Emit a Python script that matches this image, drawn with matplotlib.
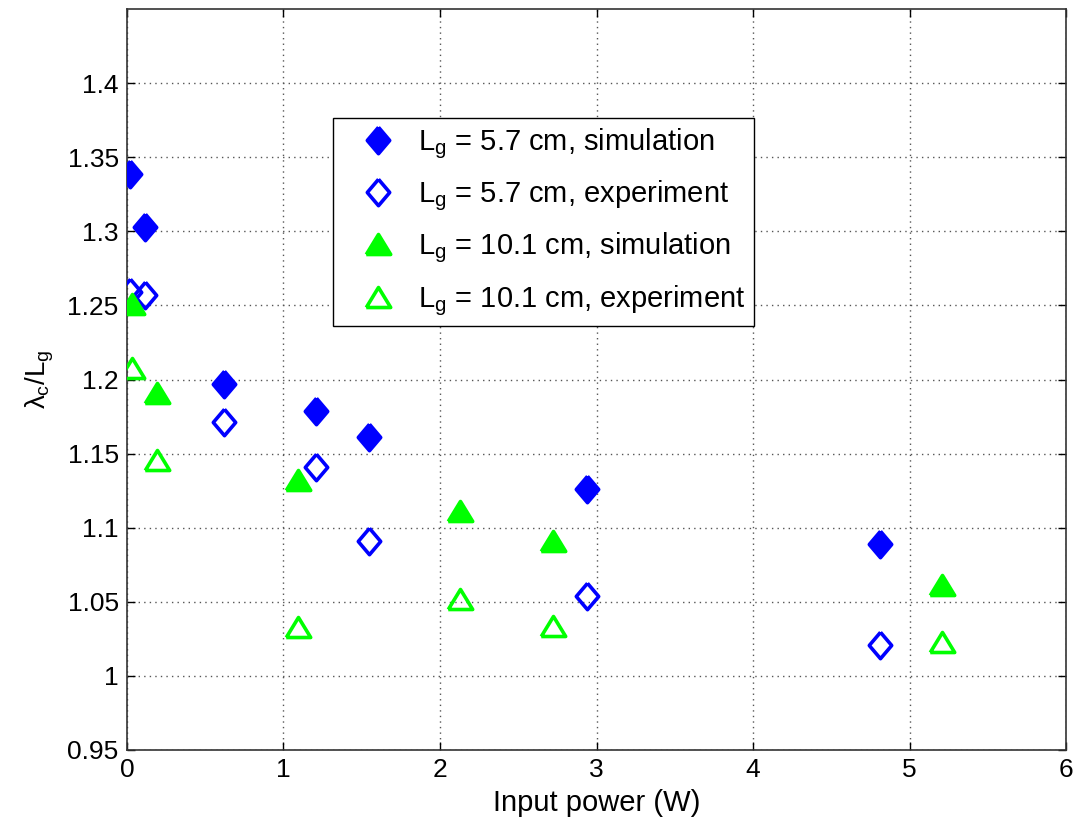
import matplotlib
matplotlib.use("Agg")
import matplotlib.pyplot as plt

plt.rcParams['font.family'] = ['Liberation Sans', 'DejaVu Sans']
plt.rcParams['mathtext.fontset'] = 'custom'
plt.rcParams['mathtext.rm'] = 'Liberation Sans'
plt.rcParams['mathtext.it'] = 'Liberation Sans'
plt.rcParams['mathtext.bf'] = 'Liberation Sans:bold'

# Data
sim57_x = [0.02, 0.115, 0.62, 1.21, 1.545, 2.94, 4.81]
sim57_y = [1.339, 1.303, 1.197, 1.179, 1.161, 1.126, 1.089]
exp57_x = [0.02, 0.115, 0.62, 1.21, 1.545, 2.94, 4.81]
exp57_y = [1.259, 1.257, 1.171, 1.141, 1.091, 1.054, 1.021]
sim101_x = [0.03, 0.19, 1.09, 2.13, 2.72, 5.21]
sim101_y = [1.251, 1.191, 1.132, 1.111, 1.091, 1.061]
exp101_x = [0.03, 0.19, 1.09, 2.13, 2.72, 5.21]
exp101_y = [1.208, 1.146, 1.033, 1.052, 1.034, 1.023]

labels = [r'$\mathregular{L_g}$ = 5.7 cm, simulation',
          r'$\mathregular{L_g}$ = 5.7 cm, experiment',
          r'$\mathregular{L_g}$ = 10.1 cm, simulation',
          r'$\mathregular{L_g}$ = 10.1 cm, experiment']
xticks = [0, 1, 2, 3, 4, 5, 6]
yticks = [0.95, 1.0, 1.05, 1.1, 1.15, 1.2, 1.25, 1.3, 1.35, 1.4]
ytick_labels = ['0.95', '1', '1.05', '1.1', '1.15', '1.2', '1.25', '1.3', '1.35', '1.4']

blue = '#0000ff'
green = '#00ff00'
diamond = [(0, 1), (0.85, 0), (0, -1), (-0.85, 0), (0, 1)]
triangle = [(-1, -0.82), (1, -0.82), (0, 0.82), (-1, -0.82)]

fig = plt.figure(figsize=(10.78, 8.35), dpi=100)
ax = fig.add_axes([0.1178, 0.1018, 0.8711, 0.8874])

lw = 2.6
ax.plot(sim57_x, sim57_y, linestyle='none', marker=diamond, ms=19,
        mfc=blue, mec=blue, mew=lw, label=labels[0], zorder=3)
ax.plot(exp57_x, exp57_y, linestyle='none', marker=diamond, ms=19,
        mfc='none', mec=blue, mew=lw, label=labels[1], zorder=3)
ax.plot(sim101_x, sim101_y, linestyle='none', marker=triangle, ms=17.6,
        mfc=green, mec=green, mew=lw, label=labels[2], zorder=3)
ax.plot(exp101_x, exp101_y, linestyle='none', marker=triangle, ms=17.6,
        mfc='none', mec=green, mew=lw, label=labels[3], zorder=3)

ax.set_xlim(0, 6)
ax.set_ylim(0.95, 1.45)
ax.set_xticks(xticks)
ax.set_xticklabels([str(t) for t in xticks])
ax.set_yticks(yticks)
ax.set_yticklabels(ytick_labels)
ax.tick_params(direction='in', labelsize=19, length=6, width=1, top=True, right=True,
               pad=6)
ax.grid(True, linestyle=(0, (1, 3)), color='#555555', linewidth=1)
for s in ax.spines.values():
    s.set_color('#333333')
    s.set_linewidth(1.2)

ax.set_xlabel('Input power (W)', fontsize=21, labelpad=5)
ax.set_ylabel(r'$\lambda_\mathregular{c}/\mathregular{L_g}$', fontsize=20, labelpad=8)

leg = ax.legend(loc='upper left', bbox_to_anchor=(0.219, 0.853), fontsize=21,
                frameon=True, fancybox=False, edgecolor='black', framealpha=1,
                borderpad=0.3, labelspacing=0.6, handletextpad=0.13,
                handlelength=2.48, borderaxespad=0)
leg.get_frame().set_linewidth(1.0)

fig.savefig('out.png', dpi=100)
